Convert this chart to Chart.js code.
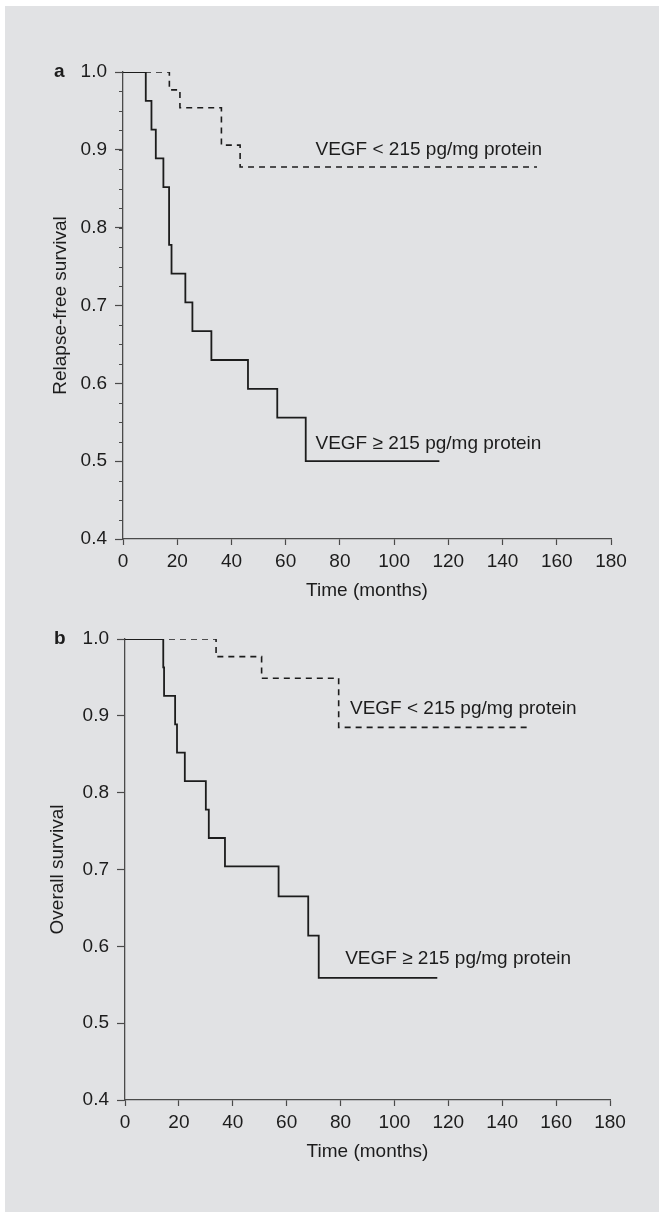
<!DOCTYPE html>
<html>
<head>
<meta charset="utf-8">
<script src="https://cdn.jsdelivr.net/npm/chart.js@4.4.1/dist/chart.umd.min.js"></script>
<style>
  html, body { margin: 0; padding: 0; background: #fff; }
  body { width: 659px; height: 1212px; position: relative; overflow: hidden; }
  #bg { position: absolute; left: 5px; top: 6px; right: 0; bottom: 0; background: #e1e2e4; }
  .panel { position: absolute; left: 0; width: 659px; }
  #panelA { top: 0; height: 610px; }
  #panelB { top: 610px; height: 602px; }
</style>
</head>
<body>
<div id="bg"></div>
<div class="panel" id="panelA"><canvas id="chartA" width="659" height="610"></canvas></div>
<div class="panel" id="panelB"><canvas id="chartB" width="659" height="602"></canvas></div>
<script>
// panel a - relapse-free survival (Kaplan-Meier, time in months)
const rfsHighTime = [0, 8.4, 10.5, 12.1, 14.9, 17.0, 17.9, 23.0, 25.6, 32.6, 46.1, 56.9, 67.4, 116.7];
const rfsHighSurv = [1, 0.963, 0.926, 0.889, 0.852, 0.778, 0.741, 0.704, 0.667, 0.630, 0.593, 0.556, 0.5, 0.5];
const rfsLowTime = [0, 17.1, 21.0, 36.3, 43.2, 152.7];
const rfsLowSurv = [1, 0.977, 0.954, 0.906, 0.878, 0.878];

// panel b - overall survival
const osHighTime = [0, 14.2, 14.5, 18.6, 19.3, 22.2, 30.0, 31.1, 37.1, 57.0, 68.0, 71.9, 115.9];
const osHighSurv = [1, 0.963, 0.926, 0.889, 0.852, 0.815, 0.778, 0.741, 0.704, 0.665, 0.614, 0.559, 0.559];
const osLowTime = [0, 33.8, 50.7, 79.3, 150.3];
const osLowSurv = [1, 0.977, 0.949, 0.885, 0.885];

const labelHigh = 'VEGF \u2265 215 pg/mg protein';
const labelLow = 'VEGF < 215 pg/mg protein';

const FONT = "'Liberation Sans', Arial, sans-serif";
const INK = '#1c1c1c';
const AXIS = '#4a4a4a';

const toPoints = (t, s) => t.map((v, i) => ({ x: v, y: s[i] }));

// text next to the curves, panel letter and the small y ticks
const kmText = {
  id: 'kmText',
  afterDraw(chart, args, opts) {
    const ctx = chart.ctx, x = chart.scales.x, y = chart.scales.y;
    ctx.save();
    if (opts.minorStep) {
      ctx.strokeStyle = AXIS;
      ctx.lineWidth = 1;
      for (let v = y.min; v <= y.max + 1e-9; v += opts.minorStep) {
        const py = Math.round(y.getPixelForValue(v)) + 0.5;
        ctx.beginPath();
        ctx.moveTo(x.left - 4, py);
        ctx.lineTo(x.left, py);
        ctx.stroke();
      }
    }
    ctx.fillStyle = INK;
    ctx.textBaseline = 'middle';
    ctx.textAlign = 'left';
    ctx.font = '19px ' + FONT;
    opts.notes.forEach(n => {
      ctx.fillText(n.text, x.getPixelForValue(n.at[0]), y.getPixelForValue(n.at[1]));
    });
    ctx.font = 'bold 19px ' + FONT;
    ctx.fillText(opts.panel, opts.panelX, y.getPixelForValue(y.max));
    ctx.restore();
  }
};

function makeChart(id, cfg) {
  const tickFont = { family: FONT, size: 19, lineHeight: 1.2 };
  return new Chart(document.getElementById(id), {
    type: 'line',
    data: {
      datasets: [
        {
          data: toPoints(cfg.highTime, cfg.highSurv),
          borderColor: INK,
          borderWidth: 1.8,
          stepped: 'before',
          pointRadius: 0,
          fill: false,
        },
        {
          data: toPoints(cfg.lowTime, cfg.lowSurv),
          borderColor: INK,
          borderWidth: 1.6,
          borderDash: [6, 5],
          stepped: 'before',
          pointRadius: 0,
          fill: false,
        },
      ],
    },
    options: {
      responsive: false,
      animation: false,
      layout: { padding: cfg.padding },
      plugins: {
        legend: { display: false },
        tooltip: { enabled: false },
        kmText: { notes: cfg.notes, panel: cfg.panel, panelX: 54, minorStep: cfg.minorStep },
      },
      scales: {
        x: {
          type: 'linear',
          min: 0,
          max: 180,
          afterFit: s => { s.height = cfg.xHeight; },
          ticks: { stepSize: 20, color: INK, font: tickFont, padding: 5, maxRotation: 0 },
          grid: { drawOnChartArea: false, tickLength: 6, color: AXIS, tickWidth: 1.2 },
          border: { color: AXIS, width: 1.3 },
          title: { display: true, text: 'Time (months)', color: INK, font: tickFont, padding: { top: 0, bottom: cfg.xTitlePad } },
        },
        y: {
          min: 0.4,
          max: 1.0,
          afterFit: s => { s.width = cfg.yWidth; },
          ticks: { stepSize: 0.1, color: INK, font: tickFont, padding: 8, callback: v => v.toFixed(1) },
          grid: { drawOnChartArea: false, tickLength: 8, color: AXIS, tickWidth: 1.2 },
          border: { color: AXIS, width: 1.3 },
          title: { display: true, text: cfg.yTitle, color: INK, font: tickFont, padding: { top: cfg.yTitlePad, bottom: 0 } },
        },
      },
    },
    plugins: [kmText],
  });
}

makeChart('chartA', {
  highTime: rfsHighTime, highSurv: rfsHighSurv,
  lowTime: rfsLowTime, lowSurv: rfsLowSurv,
  yTitle: 'Relapse-free survival',
  panel: 'a',
  minorStep: 0.025,
  padding: { top: 72, right: 48, left: 0, bottom: 0 },
  xHeight: 71, xTitlePad: 8, yWidth: 123, yTitlePad: 49,
  notes: [
    { text: labelLow, at: [71, 0.9] },
    { text: labelHigh, at: [71, 0.522] },
  ],
});

makeChart('chartB', {
  highTime: osHighTime, highSurv: osHighSurv,
  lowTime: osLowTime, lowSurv: osLowSurv,
  yTitle: 'Overall survival',
  panel: 'b',
  minorStep: 0,
  padding: { top: 29, right: 49, left: 0, bottom: 0 },
  xHeight: 112, xTitlePad: 49, yWidth: 125, yTitlePad: 46,
  notes: [
    { text: labelLow, at: [83.5, 0.909] },
    { text: labelHigh, at: [81.7, 0.584] },
  ],
});
</script>
</body>
</html>
